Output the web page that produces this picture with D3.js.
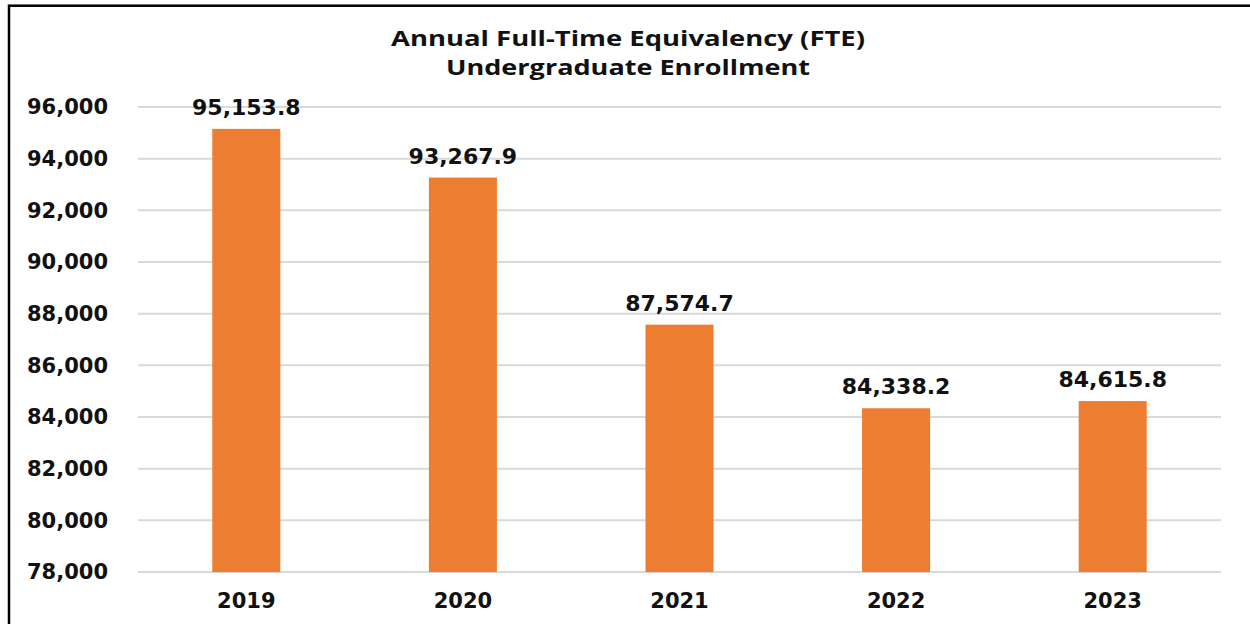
<!DOCTYPE html>
<html>
<head>
<meta charset="utf-8">
<script src="https://cdn.jsdelivr.net/npm/d3@7"></script>
<style>
  html, body { margin: 0; padding: 0; background: #fff; }
  svg { display: block; }
</style>
</head>
<body>
<div id="chart"></div>
<script>
// values
const years = ["2019", "2020", "2021", "2022", "2023"];
const fte = [95153.8, 93267.9, 87574.7, 84338.2, 84615.8];
const yTicks = [78000, 80000, 82000, 84000, 86000, 88000, 90000, 92000, 94000, 96000];
const titleLines = ["Annual Full-Time Equivalency (FTE)", "Undergraduate Enrollment"];

const width = 1250, height = 624;
const plot = { left: 138, right: 1221, top: 107, bottom: 572 };
const barColor = "#ED7D31";
const labelFont = "'DejaVu Sans', Verdana, sans-serif";

const svg = d3.select("#chart")
    .append("svg")
    .attr("width", width)
    .attr("height", height);

// outer frame (runs off the right/bottom edge in the reference)
svg.append("rect")
    .attr("x", 9)
    .attr("y", 5.7)
    .attr("width", width + 20)
    .attr("height", height + 20)
    .attr("fill", "none")
    .attr("stroke", "#000")
    .attr("stroke-width", 2.5);

const x = d3.scaleBand()
    .domain(years)
    .range([plot.left, plot.right])
    .paddingInner(0.686)
    .paddingOuter(0.343);

const y = d3.scaleLinear()
    .domain([78000, 96000])
    .range([plot.bottom, plot.top]);

// gridlines
svg.append("g")
    .selectAll("line")
    .data(yTicks)
    .enter().append("line")
    .attr("x1", plot.left)
    .attr("x2", plot.right)
    .attr("y1", d => y(d))
    .attr("y2", d => y(d))
    .attr("stroke", "#d9d9d9")
    .attr("stroke-width", 2);

// y axis labels
const yAxis = d3.axisLeft(y)
    .tickValues(yTicks)
    .tickFormat(d3.format(","))
    .tickSize(0)
    .tickPadding(0);

const yG = svg.append("g")
    .attr("transform", "translate(108,0)")
    .call(yAxis);
yG.select(".domain").remove();
yG.selectAll("text")
    .attr("font-family", labelFont)
    .attr("font-weight", "bold")
    .attr("font-size", 21)
    .attr("fill", "#111");

// x axis labels
const xAxis = d3.axisBottom(x).tickSize(0).tickPadding(0);
const xG = svg.append("g")
    .attr("transform", "translate(0," + plot.bottom + ")")
    .call(xAxis);
xG.select(".domain").remove();
xG.selectAll("text")
    .attr("dy", null)
    .attr("y", 36)
    .attr("font-family", labelFont)
    .attr("font-weight", "bold")
    .attr("font-size", 21)
    .attr("fill", "#111");

const data = years.map((yr, i) => ({ year: yr, value: fte[i] }));

// bars
svg.selectAll(".bar")
    .data(data)
    .enter().append("rect")
    .attr("class", "bar")
    .attr("x", d => x(d.year))
    .attr("width", x.bandwidth())
    .attr("y", d => y(d.value))
    .attr("height", d => y.range()[0] - y(d.value))
    .attr("fill", barColor);

// value labels
svg.selectAll(".val")
    .data(data)
    .enter().append("text")
    .attr("class", "val")
    .attr("x", d => x(d.year) + x.bandwidth() / 2)
    .attr("y", d => y(d.value) - 14)
    .attr("text-anchor", "middle")
    .attr("font-family", labelFont)
    .attr("font-weight", "bold")
    .attr("font-size", 22)
    .attr("fill", "#111")
    .text(d => d3.format(",.1f")(d.value));

// title
const titleWidths = [474, 364];
svg.append("g")
    .selectAll("text")
    .data(titleLines)
    .enter().append("text")
    .attr("x", 628)
    .attr("y", (d, i) => 46 + i * 29)
    .attr("text-anchor", "middle")
    .attr("font-family", "'Open Sans', sans-serif")
    .attr("font-weight", "bold")
    .attr("font-size", 22)
    .attr("textLength", (d, i) => titleWidths[i])
    .attr("lengthAdjust", "spacingAndGlyphs")
    .attr("fill", "#111")
    .text(d => d);
</script>
</body>
</html>
